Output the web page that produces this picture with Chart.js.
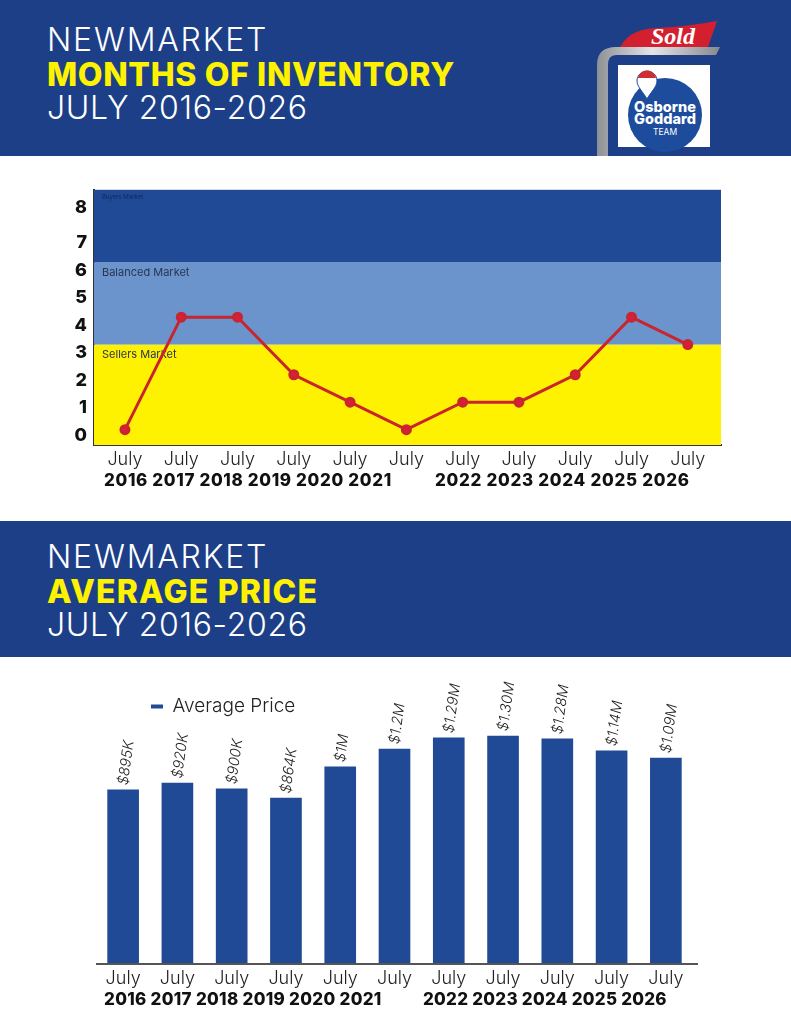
<!DOCTYPE html>
<html>
<head>
<meta charset="utf-8">
<title>Newmarket</title>
<script src="https://cdn.jsdelivr.net/npm/chart.js@4/dist/chart.umd.min.js"></script>
<style>
html, body { margin: 0; padding: 0; background: #fff; }
#page { position: relative; width: 791px; height: 1024px; overflow: hidden; font-family: Inter, sans-serif; }
.banda { position: absolute; left: 0; width: 791px; background: #1c3f87; }
.t { position: absolute; left: 47px; white-space: nowrap; color: #fff; font-weight: 300; font-size: 32px; line-height: 36px; }
.amarillo { color: #fff200; font-weight: 800; }
canvas { position: absolute; }
.anios { position: absolute; white-space: nowrap; font-weight: 800; color: #111; font-size: 17px; line-height: 20px; }
#logo { position: absolute; left: 590px; top: 15px; }
</style>
</head>
<body>
<div id="page">
  <div class="banda" style="top:0;height:156px"></div>
  <div class="banda" style="top:521px;height:136px"></div>

  <div class="t" style="top:22px;letter-spacing:1.8px">NEWMARKET</div>
  <div class="t amarillo" style="top:57px;letter-spacing:0.65px">MONTHS OF INVENTORY</div>
  <div class="t" style="top:90px;letter-spacing:0.65px">JULY 2016-2026</div>

  <div class="t" style="top:539px;letter-spacing:1.8px">NEWMARKET</div>
  <div class="t amarillo" style="top:574px;letter-spacing:1.2px">AVERAGE PRICE</div>
  <div class="t" style="top:607px;letter-spacing:0.65px">JULY 2016-2026</div>

  <svg id="logo" width="135" height="145" viewBox="0 0 135 145">
    <defs>
      <linearGradient id="tubo" x1="0" x2="1" y1="0" y2="0">
        <stop offset="0" stop-color="#8d9095"/>
        <stop offset="0.45" stop-color="#e4e5e7"/>
        <stop offset="1" stop-color="#85888d"/>
      </linearGradient>
    </defs>
    <path d="M7 141 L7 50 Q7 32 26 32 L130 32 L126 40 L26 40 Q18 40 18 50 L18 141 Z" fill="url(#tubo)"/>
    <path d="M30 32 C38 18 50 14 66 13 C90 12 110 9 127 6 L118 32 Z" fill="#d3202e"/>
    <text x="83" y="29" font-family="Liberation Serif" font-style="italic" font-weight="700" font-size="24" fill="#fff" text-anchor="middle">Sold</text>
    <circle cx="43" cy="52" r="1.6" fill="#555"/>
    <circle cx="107" cy="52" r="1.6" fill="#555"/>
    <rect x="28" y="50" width="92" height="82" fill="#fff"/>
    <circle cx="75" cy="100" r="37" fill="#1d4c9c"/>
    <path d="M47 66 C47 53 67 53 67 66 C67 72 60 78 57 84 C54 78 47 72 47 66 Z" fill="#fff" stroke="#1d4c9c" stroke-width="1"/>
    <path d="M48 63 C50 53 64 53 66 63 Z" fill="#cf2e35"/>
    <text x="75" y="97" font-family="Inter" font-weight="800" font-size="14.5" fill="#fff" text-anchor="middle">Osborne</text>
    <text x="75" y="109" font-family="Inter" font-weight="800" font-size="14.5" fill="#fff" text-anchor="middle">Goddard</text>
    <text x="75" y="120" font-family="Inter" font-size="8.5" fill="#fff" text-anchor="middle">TEAM</text>
  </svg>

  <canvas id="graficaInventario" width="668" height="308" style="left:60px;top:172px"></canvas>
  <div class="anios" id="aniosInv1" style="left:104px;top:470px;letter-spacing:0.65px"></div>
  <div class="anios" id="aniosInv2" style="left:435px;top:470px;letter-spacing:0.7px"></div>

  <canvas id="graficaPrecio" width="610" height="366" style="left:96px;top:642px"></canvas>
  <div class="anios" id="aniosPre1" style="left:104px;top:989px;letter-spacing:0.3px"></div>
  <div class="anios" id="aniosPre2" style="left:423px;top:989px;letter-spacing:0.25px"></div>
</div>

<script>
const meses = ["July","July","July","July","July","July","July","July","July","July","July"];
const anios = ["2016","2017","2018","2019","2020","2021","2022","2023","2024","2025","2026"];

// months of inventory, read against the printed y labels
const inventario = [0.2, 4.3, 4.3, 2.2, 1.2, 0.2, 1.2, 1.2, 2.2, 4.3, 3.3];
const marcasY = [0, 1, 2, 3, 4, 5, 6, 7, 8.3];
const etiquetasY = ["0","1","2","3","4","5","6","7","8"];

const zonas = ["Sellers Market", "Balanced Market", "Buyers Market"];
const zonasHasta = [3.3, 6.3, 8.94];

// bar heights, in $K; printed labels are kept apart
const precios = [895, 930, 900, 853, 1013, 1105, 1162, 1172, 1157, 1095, 1059];
const etiquetasPrecio = ["$895K","$920K","$900K","$864K","$1M","$1.2M","$1.29M","$1.30M","$1.28M","$1.14M","$1.09M"];

const fuente = "Inter, sans-serif";

document.getElementById("aniosInv1").textContent = anios.slice(0, 6).join(" ");
document.getElementById("aniosInv2").textContent = anios.slice(6).join(" ");
document.getElementById("aniosPre1").textContent = anios.slice(0, 6).join(" ");
document.getElementById("aniosPre2").textContent = anios.slice(6).join(" ");

const pluginZonas = {
    id: "zonas",
    beforeDatasetsDraw(chart) {
        const ctx = chart.ctx, area = chart.chartArea, y = chart.scales.y;
        const colores = ["#fff200", "#6b94cd", "#204a95"];
        let desde = y.min;
        ctx.save();
        zonasHasta.forEach((hasta, i) => {
            const abajo = y.getPixelForValue(desde), arriba = y.getPixelForValue(hasta);
            ctx.fillStyle = colores[i];
            ctx.fillRect(area.left, arriba, area.right - area.left, abajo - arriba);
            desde = hasta;
        });
        ctx.textBaseline = "middle";
        ctx.fillStyle = "#2b3350";
        ctx.font = "400 11px " + fuente;
        ctx.fillText(zonas[0], area.left + 8, y.getPixelForValue(zonasHasta[0]) + 10);
        ctx.fillText(zonas[1], area.left + 8, y.getPixelForValue(zonasHasta[1]) + 10);
        ctx.font = "400 6px " + fuente;
        ctx.fillStyle = "#10275c";
        ctx.fillText(zonas[2], area.left + 8, area.top + 7);
        ctx.restore();
    }
};

new Chart(document.getElementById("graficaInventario"), {
    type: "line",
    data: {
        datasets: [{
            label: "Months of Inventory",
            data: inventario.map((v, i) => ({ x: i, y: v })),
            borderColor: "#c9252f",
            backgroundColor: "#d9203a",
            borderWidth: 3,
            pointRadius: 4,
            pointHoverRadius: 4,
            tension: 0
        }]
    },
    options: {
        responsive: false,
        animation: false,
        layout: { padding: { top: 4 } },
        plugins: { legend: { display: false }, tooltip: { enabled: false } },
        scales: {
            x: {
                type: "linear",
                min: -0.55,
                max: 10.59,
                afterBuildTicks: (eje) => { eje.ticks = meses.map((m, i) => ({ value: i })); },
                afterFit: (eje) => { eje.height = 35; },
                grid: { display: false, drawTicks: false },
                border: { color: "#333", width: 2 },
                ticks: {
                    autoSkip: false, maxRotation: 0, padding: 4,
                    color: "#222",
                    font: { family: fuente, size: 18, weight: "300" },
                    callback: (v) => meses[v]
                }
            },
            y: {
                min: -0.36,
                max: 8.94,
                afterBuildTicks: (eje) => { eje.ticks = marcasY.map((v) => ({ value: v })); },
                afterFit: (eje) => { eje.width = 34; },
                grid: { display: false, drawTicks: false },
                border: { color: "#333", width: 2 },
                ticks: {
                    autoSkip: false, padding: 7,
                    color: "#111",
                    font: { family: fuente, size: 18, weight: "800" },
                    callback: (v) => etiquetasY[marcasY.indexOf(v)]
                }
            }
        }
    },
    plugins: [pluginZonas]
});

const pluginEtiquetas = {
    id: "etiquetas",
    afterDatasetsDraw(chart) {
        const ctx = chart.ctx, area = chart.chartArea;
        ctx.save();
        ctx.strokeStyle = "#555";
        ctx.lineWidth = 2;
        ctx.beginPath();
        ctx.moveTo(area.left, area.bottom);
        ctx.lineTo(area.right + 5, area.bottom);
        ctx.stroke();
        ctx.fillStyle = "#222";
        ctx.font = "italic 300 14.5px " + fuente;
        ctx.textBaseline = "middle";
        chart.getDatasetMeta(0).data.forEach((barra, i) => {
            ctx.save();
            ctx.translate(barra.x, barra.y - 5);
            ctx.rotate(-82 * Math.PI / 180);
            ctx.fillText(etiquetasPrecio[i], 0, 0);
            ctx.restore();
        });
        ctx.restore();
    }
};

new Chart(document.getElementById("graficaPrecio"), {
    type: "bar",
    data: {
        labels: meses,
        datasets: [{
            label: "Average Price",
            data: precios,
            backgroundColor: "#204a95",
            barThickness: 31
        }]
    },
    options: {
        responsive: false,
        animation: false,
        layout: { padding: { right: 13 } },
        plugins: {
            tooltip: { enabled: false },
            legend: {
                position: "chartArea",
                align: "start",
                labels: {
                    padding: 55,
                    boxWidth: 12,
                    boxHeight: 4,
                    color: "#222",
                    font: { family: fuente, size: 19, weight: "300" }
                }
            }
        },
        scales: {
            x: {
                afterFit: (eje) => { eje.height = 44; },
                grid: { display: false, drawTicks: false },
                border: { display: false },
                ticks: {
                    autoSkip: false, maxRotation: 0, padding: 4,
                    color: "#222",
                    font: { family: fuente, size: 18, weight: "300" }
                }
            },
            y: {
                display: false,
                min: 0,
                max: 1655
            }
        }
    },
    plugins: [pluginEtiquetas]
});
</script>
</body>
</html>
